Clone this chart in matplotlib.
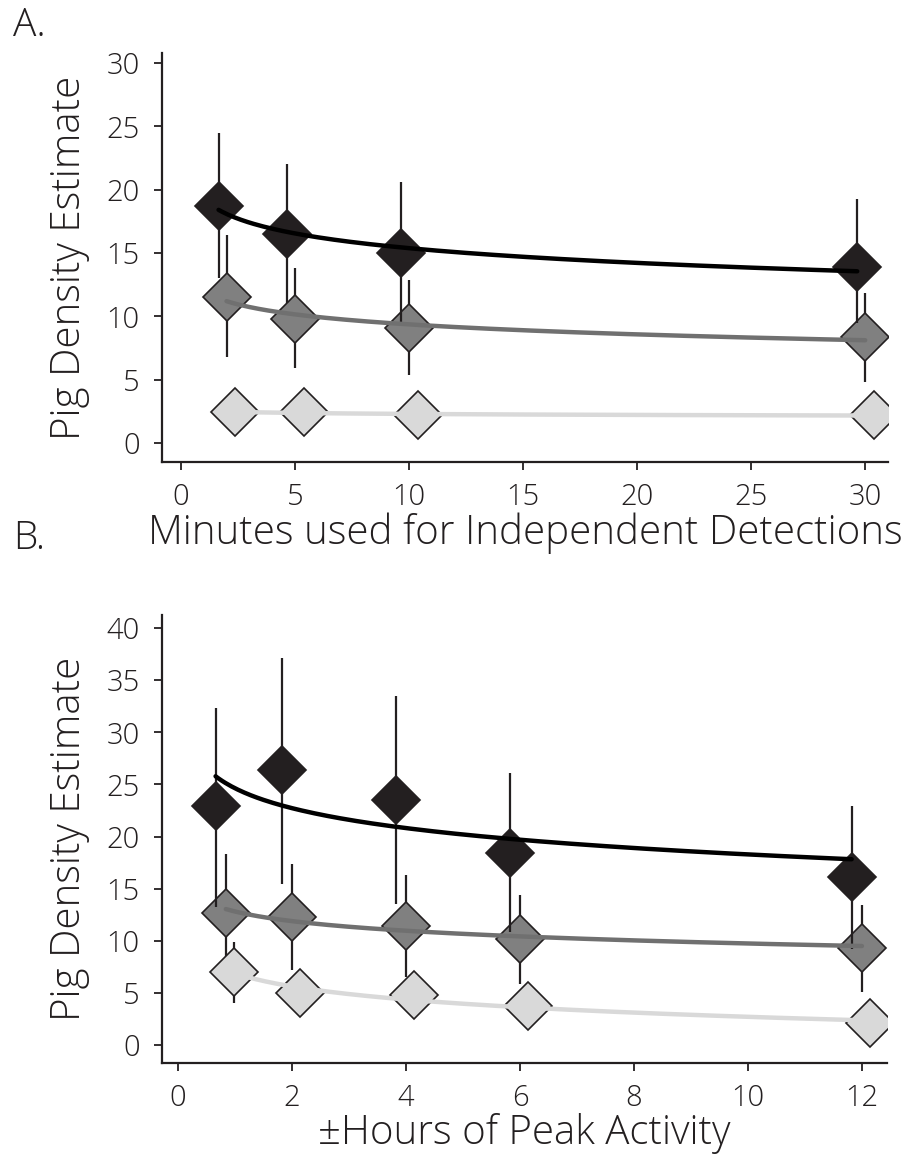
import numpy as np
import matplotlib.pyplot as plt

# panel A: minutes used to separate independent detections
minutes = [2, 5, 10, 30]
a_black = [18.7, 16.5, 15.0, 13.9]
a_black_lo = [13.0, 11.05, 9.5, 9.5]
a_black_hi = [24.5, 22.05, 20.6, 19.3]
a_grey = [11.55, 9.8, 9.1, 8.4]
a_grey_lo = [6.8, 5.9, 5.4, 4.8]
a_grey_hi = [16.4, 13.8, 12.9, 11.85]
a_light = [2.45, 2.45, 2.2, 2.2]
a_light_lo = [1.3, 1.3, 1.1, 1.1]
a_light_hi = [3.6, 3.6, 3.3, 3.3]

# panel B: hours either side of peak activity
hours = [0.84, 2, 4, 6, 12]
b_black = [22.9, 26.4, 23.5, 18.4, 16.1]
b_black_lo = [13.2, 15.4, 13.5, 10.8, 9.2]
b_black_hi = [32.3, 37.1, 33.5, 26.1, 22.9]
b_grey = [12.65, 12.3, 11.4, 10.15, 9.3]
b_grey_lo = [7.5, 7.2, 6.5, 5.85, 5.1]
b_grey_hi = [18.3, 17.35, 16.3, 14.4, 13.4]
b_light = [7.0, 5.0, 4.8, 3.75, 2.1]
b_light_lo = [4.0, 3.6, 3.4, 2.4, 0.9]
b_light_hi = [9.9, 6.5, 6.2, 5.1, 3.3]

fills = {'black': '#231f20', 'grey': '#808080', 'light': '#d9d9d9'}
curves = {'black': '#000000', 'grey': '#707070', 'light': '#d9d9d9'}
ink = '#231f20'

plt.rcParams['font.family'] = ['Open Sans', 'DejaVu Sans']
plt.rcParams['font.weight'] = 'light'
plt.rcParams['axes.labelweight'] = 'light'

fig = plt.figure(figsize=(9.03, 11.6), dpi=100)
axA = fig.add_axes([0.1794, 0.6017, 0.804, 0.3526])
axB = fig.add_axes([0.1794, 0.0836, 0.8029, 0.3862])


def draw_group(ax, x, y, lo, hi, key, z):
    x = np.asarray(x, float)
    y = np.asarray(y, float)
    ax.vlines(x, lo, hi, color=ink, lw=1.6, zorder=z)
    ax.plot(x, y, ls='none', marker='D', ms=24.5, mfc=fills[key],
            mec=ink, mew=1.2, zorder=z + 1)
    # log fit through the group, like a smoother with y ~ log(x)
    b, a = np.polyfit(np.log(x), y, 1)
    xs = np.linspace(x.min(), x.max(), 200)
    ax.plot(xs, a + b * np.log(xs), color=curves[key], lw=3.2,
            solid_capstyle='round', zorder=20)


def style(ax, xlim, ylim, xticks, yticks, xlabel):
    ax.set_xlim(*xlim)
    ax.set_ylim(*ylim)
    ax.set_xticks(xticks)
    ax.set_yticks(yticks)
    for s in ['top', 'right']:
        ax.spines[s].set_visible(False)
    for s in ['left', 'bottom']:
        ax.spines[s].set_linewidth(1.6)
        ax.spines[s].set_color(ink)
    ax.tick_params(direction='out', length=6, width=1.3, color=ink,
                   labelsize=21, labelcolor=ink)
    ax.tick_params(axis='x', pad=9)
    ax.tick_params(axis='y', pad=10)
    ax.set_xlabel(xlabel, fontsize=29, color=ink, labelpad=0)
    ax.set_ylabel('Pig Density Estimate', fontsize=29, color=ink, labelpad=12)


mA = np.array(minutes, float)
draw_group(axA, mA, a_grey, a_grey_lo, a_grey_hi, 'grey', 3)
draw_group(axA, mA + 0.38, a_light, a_light_lo, a_light_hi, 'light', 6)
draw_group(axA, mA - 0.35, a_black, a_black_lo, a_black_hi, 'black', 9)
style(axA, (-0.83, 31.0), (-1.5, 30.8), range(0, 31, 5), range(0, 31, 5),
      'Minutes used for Independent Detections')

hB = np.array(hours, float)
draw_group(axB, hB, b_grey, b_grey_lo, b_grey_hi, 'grey', 3)
draw_group(axB, hB + 0.14, b_light, b_light_lo, b_light_hi, 'light', 6)
draw_group(axB, hB - 0.18, b_black, b_black_lo, b_black_hi, 'black', 9)
style(axB, (-0.28, 12.44), (-1.73, 41.25), range(0, 13, 2), range(0, 41, 5),
      '\u00b1Hours of Peak Activity')

fig.text(0.014, 0.994, 'A.', fontsize=28, color=ink, va='top')
fig.text(0.014, 0.552, 'B.', fontsize=28, color=ink, va='top')

fig.savefig('out.png', dpi=100)
